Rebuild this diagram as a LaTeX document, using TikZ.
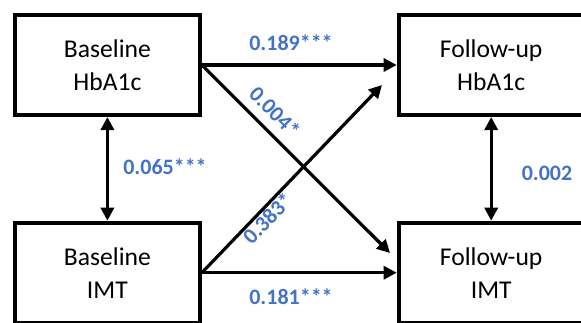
\documentclass[tikz,border=0pt]{standalone}
\usepackage{fontspec}
\setmainfont{Carlito}
\usetikzlibrary{arrows.meta}
\definecolor{coefblue}{RGB}{68,114,196}
\begin{document}
\begin{tikzpicture}[x=1pt,y=-1pt,
  box/.style={draw,line width=4pt,minimum width=185pt,minimum height=100pt,
    inner sep=0pt,align=center,font=\fontsize{25.6}{33}\selectfont},
  link/.style={line width=3.2pt,-{Triangle[length=13pt,width=13pt]}},
  dlink/.style={line width=3.2pt,
    {Triangle[length=13pt,width=13pt]}-{Triangle[length=13pt,width=13pt]}},
  coef/.style={text=coefblue,inner sep=0pt,
    font=\fontsize{22}{26}\selectfont\bfseries}]
\useasboundingbox (0,0) rectangle (581,322);
\clip (0,0) rectangle (581,322);

% measurement boxes
\node[box] (tl) at (107.4,65)    {Baseline\\HbA1c};
\node[box] (tr) at (491.2,65)    {Follow-up\\HbA1c};
\node[box] (bl) at (107.4,272.7) {Baseline\\IMT};
\node[box] (br) at (491.2,272.7) {Follow-up\\IMT};

% free ends of the cross-lagged paths
\coordinate (d1) at (390,253);
\coordinate (d2) at (382,85);

% paths
\draw[link]  (tl.east)  -- (tr.west);
\draw[link]  (bl.east)  -- (br.west);
\draw[link]  (tl.east)  -- (d1);
\draw[link]  (bl.east)  -- (d2);
\draw[dlink] (tl.south) -- (bl.north);
\draw[dlink] (tr.south) -- (br.north);

% coefficients
\node[coef] (c1) at (291,43)  {0.189***};
\node[coef] (c2) at (291,297) {0.181***};
\node[coef] (c3) at (165,167) {0.065***};
\node[coef] (c4) at (547,173) {0.002};
\node[coef,rotate=-45] (c5) at (275,112) {0.004*};
\node[coef,rotate=46]  (c6) at (267.5,218) {0.383*};
\end{tikzpicture}
\end{document}
